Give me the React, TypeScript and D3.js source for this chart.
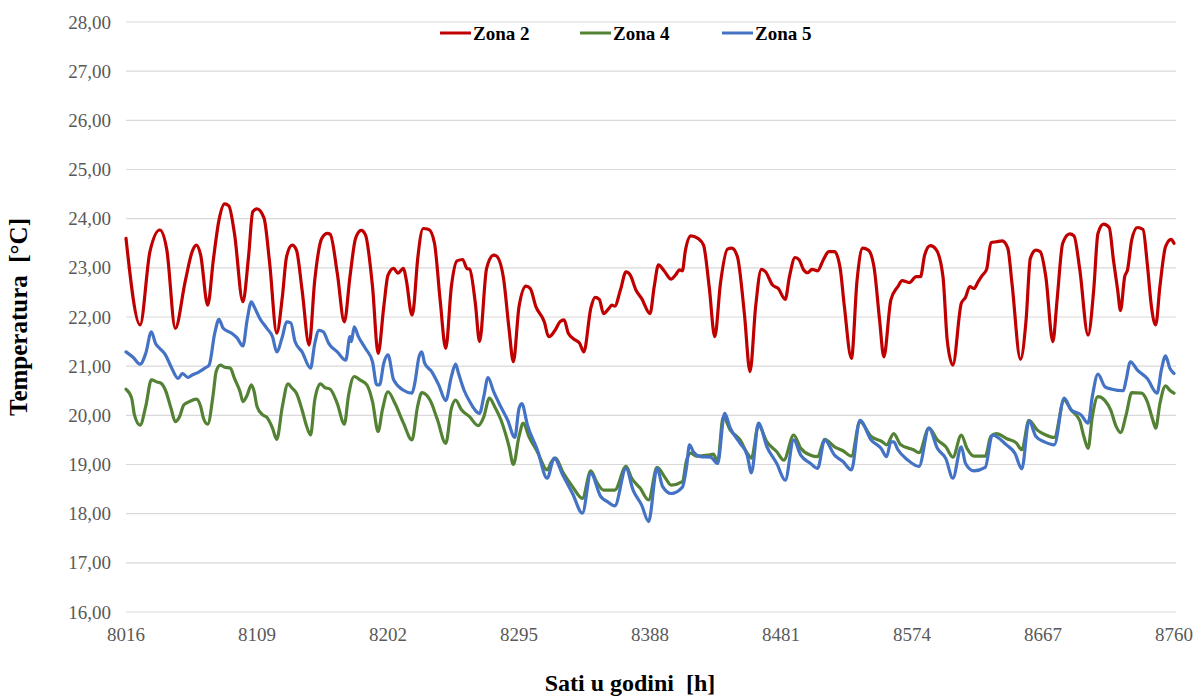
import React from "react";
import * as d3 from "d3";

// Hour-of-year / temperature pairs
const zona2: [number, number][] = [
  [8016, 23.6], [8026, 21.84], [8033, 23.33], [8040, 23.77], [8045, 23.36], [8051, 21.77],
  [8058, 22.72], [8063, 23.33], [8066, 23.46], [8069, 23.26], [8074, 22.24], [8078, 23.16],
  [8082, 23.97], [8086, 24.3], [8089, 24.26], [8093, 23.7], [8099, 22.31], [8103, 23.23],
  [8106, 24.14], [8109, 24.2], [8114, 24.01], [8118, 23.09], [8123, 21.67], [8127, 22.41],
  [8130, 23.23], [8134, 23.46], [8137, 23.36], [8141, 22.55], [8146, 21.43], [8150, 22.75],
  [8155, 23.6], [8159, 23.7], [8161, 23.68], [8166, 22.89], [8171, 21.9], [8175, 22.82],
  [8179, 23.6], [8183, 23.76], [8186, 23.67], [8191, 22.62], [8195, 21.26], [8199, 22.21],
  [8202, 22.85], [8206, 22.99], [8209, 22.89], [8213, 22.99], [8215, 22.75], [8219, 22.04],
  [8220, 22.14], [8223, 23.16], [8227, 23.8], [8231, 23.78], [8235, 23.5], [8239, 22.35],
  [8243, 21.36], [8247, 22.62], [8251, 23.14], [8255, 23.17], [8258, 22.99], [8260, 22.97],
  [8264, 22.28], [8267, 21.5], [8272, 22.99], [8277, 23.26], [8279, 23.24], [8284, 22.79],
  [8288, 21.74], [8291, 21.09], [8295, 22.21], [8300, 22.63], [8303, 22.58], [8307, 22.21],
  [8313, 21.9], [8316, 21.6], [8318, 21.63], [8321, 21.75], [8324, 21.9], [8327, 21.94],
  [8330, 21.67], [8335, 21.53], [8338, 21.47], [8341, 21.29], [8346, 22.18], [8349, 22.4],
  [8352, 22.36], [8355, 22.07], [8359, 22.18], [8361, 22.24], [8363, 22.22], [8367, 22.55],
  [8371, 22.92], [8374, 22.85], [8378, 22.55], [8382, 22.38], [8388, 22.07], [8391, 22.62],
  [8394, 23.06], [8398, 22.94], [8403, 22.77], [8406, 22.85], [8409, 22.96], [8411, 22.94],
  [8413, 23.33], [8417, 23.65], [8422, 23.6], [8426, 23.46], [8430, 22.62], [8434, 21.6],
  [8438, 22.68], [8443, 23.38], [8446, 23.4], [8450, 23.23], [8455, 22.07], [8459, 20.89],
  [8463, 22.21], [8467, 22.97], [8470, 22.92], [8475, 22.65], [8479, 22.58], [8484, 22.36],
  [8487, 22.82], [8491, 23.21], [8494, 23.16], [8497, 22.96], [8500, 22.9], [8503, 22.97],
  [8507, 22.94], [8511, 23.16], [8515, 23.33], [8519, 23.33], [8523, 22.99], [8526, 22.21],
  [8531, 21.16], [8535, 22.75], [8539, 23.4], [8543, 23.36], [8547, 23.02], [8551, 21.94],
  [8554, 21.19], [8559, 22.35], [8564, 22.62], [8567, 22.74], [8572, 22.7], [8577, 22.82],
  [8580, 22.82], [8583, 23.26], [8587, 23.45], [8591, 23.38], [8596, 22.82], [8599, 21.53],
  [8603, 21.02], [8609, 22.28], [8612, 22.4], [8615, 22.62], [8618, 22.58], [8621, 22.72],
  [8624, 22.85], [8627, 22.97], [8630, 23.51], [8634, 23.53], [8638, 23.55], [8642, 23.4],
  [8645, 22.68], [8651, 21.14], [8655, 21.94], [8658, 23.19], [8662, 23.36], [8665, 23.33],
  [8669, 22.82], [8674, 21.5], [8677, 22.35], [8681, 23.5], [8686, 23.69], [8689, 23.65],
  [8693, 22.99], [8699, 21.63], [8703, 22.55], [8706, 23.7], [8710, 23.89], [8714, 23.82],
  [8717, 23.16], [8720, 22.55], [8722, 22.13], [8725, 22.82], [8727, 22.96], [8730, 23.57],
  [8734, 23.82], [8738, 23.78], [8741, 23.09], [8744, 22.21], [8747, 21.84], [8750, 22.62],
  [8754, 23.43], [8758, 23.58], [8760, 23.5],
];

const zona4: [number, number][] = [
  [8016, 20.53], [8020, 20.35], [8022, 20.01], [8026, 19.8], [8030, 20.18], [8034, 20.72],
  [8038, 20.68], [8041, 20.65], [8044, 20.51], [8048, 20.14], [8051, 19.87], [8054, 19.97],
  [8057, 20.21], [8061, 20.28], [8066, 20.33], [8069, 20.18], [8071, 19.94], [8074, 19.82],
  [8078, 20.45], [8080, 20.89], [8083, 21.02], [8086, 20.98], [8090, 20.96], [8093, 20.75],
  [8097, 20.48], [8099, 20.28], [8102, 20.41], [8105, 20.62], [8107, 20.48], [8109, 20.18],
  [8113, 20.01], [8116, 19.96], [8120, 19.74], [8123, 19.51], [8127, 20.18], [8131, 20.64],
  [8134, 20.55], [8137, 20.45], [8141, 20.11], [8144, 19.8], [8147, 19.6], [8150, 20.31],
  [8154, 20.64], [8157, 20.57], [8161, 20.53], [8166, 20.24], [8171, 19.82], [8174, 20.41],
  [8178, 20.79], [8182, 20.72], [8187, 20.62], [8191, 20.28], [8195, 19.67], [8198, 20.11],
  [8202, 20.48], [8207, 20.24], [8213, 19.84], [8219, 19.5], [8223, 20.18], [8226, 20.46],
  [8232, 20.3], [8237, 19.92], [8243, 19.43], [8247, 20.14], [8250, 20.31], [8254, 20.12],
  [8260, 19.97], [8266, 19.79], [8270, 19.97], [8274, 20.35], [8278, 20.16], [8282, 19.92],
  [8286, 19.57], [8288, 19.36], [8291, 19.0], [8295, 19.57], [8298, 19.84], [8302, 19.57],
  [8308, 19.26], [8315, 18.89], [8318, 19.05], [8321, 19.13], [8326, 18.85], [8333, 18.55],
  [8340, 18.31], [8346, 18.87], [8350, 18.65], [8355, 18.48], [8363, 18.48], [8371, 18.96],
  [8375, 18.72], [8381, 18.52], [8387, 18.28], [8393, 18.94], [8399, 18.72], [8403, 18.58],
  [8411, 18.65], [8414, 19.09], [8417, 19.23], [8421, 19.17], [8429, 19.19], [8433, 19.21],
  [8436, 19.06], [8440, 19.97], [8445, 19.7], [8452, 19.5], [8457, 19.23], [8460, 19.13],
  [8465, 19.8], [8471, 19.46], [8478, 19.26], [8483, 19.09], [8490, 19.6], [8495, 19.33],
  [8502, 19.19], [8507, 19.16], [8512, 19.51], [8519, 19.36], [8525, 19.28], [8531, 19.17],
  [8537, 19.87], [8545, 19.57], [8553, 19.46], [8556, 19.4], [8561, 19.63], [8566, 19.4],
  [8575, 19.3], [8579, 19.24], [8586, 19.74], [8592, 19.5], [8598, 19.36], [8603, 19.15],
  [8609, 19.6], [8613, 19.33], [8618, 19.17], [8626, 19.17], [8630, 19.57], [8634, 19.63],
  [8641, 19.53], [8648, 19.44], [8652, 19.3], [8657, 19.9], [8663, 19.7], [8669, 19.6],
  [8675, 19.55], [8682, 20.31], [8687, 20.11], [8693, 19.9], [8696, 19.57], [8699, 19.33],
  [8702, 19.97], [8706, 20.38], [8711, 20.3], [8715, 20.11], [8719, 19.77], [8722, 19.65],
  [8726, 20.01], [8730, 20.46], [8737, 20.45], [8741, 20.28], [8745, 19.9], [8747, 19.74],
  [8750, 20.24], [8754, 20.6], [8757, 20.51], [8760, 20.45],
];

const zona5: [number, number][] = [
  [8016, 21.29], [8021, 21.18], [8026, 21.04], [8030, 21.26], [8034, 21.7], [8037, 21.46],
  [8040, 21.36], [8044, 21.23], [8048, 20.99], [8053, 20.75], [8056, 20.85], [8060, 20.77],
  [8063, 20.82], [8067, 20.87], [8072, 20.96], [8075, 21.02], [8079, 21.67], [8082, 21.95],
  [8085, 21.77], [8091, 21.67], [8095, 21.57], [8099, 21.41], [8102, 21.94], [8105, 22.31],
  [8107, 22.21], [8111, 21.97], [8116, 21.77], [8120, 21.6], [8123, 21.29], [8127, 21.6],
  [8130, 21.9], [8133, 21.88], [8136, 21.5], [8141, 21.29], [8147, 20.96], [8150, 21.46],
  [8153, 21.73], [8156, 21.7], [8160, 21.46], [8166, 21.29], [8172, 21.12], [8175, 21.6],
  [8176, 21.5], [8178, 21.8], [8181, 21.6], [8186, 21.36], [8191, 21.09], [8194, 20.62],
  [8196, 20.62], [8199, 21.06], [8202, 21.23], [8206, 20.72], [8213, 20.51], [8219, 20.45],
  [8221, 20.65], [8224, 21.19], [8226, 21.29], [8228, 21.06], [8233, 20.89], [8238, 20.62],
  [8243, 20.3], [8247, 20.79], [8250, 21.04], [8252, 20.86], [8256, 20.51], [8260, 20.28],
  [8267, 20.04], [8270, 20.38], [8273, 20.77], [8277, 20.48], [8282, 20.18], [8287, 19.9],
  [8292, 19.55], [8295, 20.14], [8297, 20.24], [8301, 19.8], [8308, 19.3], [8315, 18.72],
  [8320, 19.13], [8326, 18.79], [8333, 18.41], [8340, 18.01], [8346, 18.82], [8353, 18.35],
  [8358, 18.24], [8363, 18.16], [8371, 18.92], [8376, 18.48], [8382, 18.18], [8387, 17.84],
  [8393, 18.92], [8397, 18.55], [8403, 18.41], [8411, 18.54], [8414, 18.96], [8416, 19.4],
  [8419, 19.25], [8424, 19.16], [8431, 19.15], [8436, 19.02], [8441, 20.04], [8445, 19.74],
  [8452, 19.43], [8457, 19.19], [8460, 18.83], [8465, 19.84], [8471, 19.36], [8478, 19.02],
  [8484, 18.68], [8490, 19.5], [8495, 19.19], [8502, 19.02], [8507, 18.92], [8512, 19.5],
  [8519, 19.19], [8525, 19.06], [8531, 18.89], [8537, 19.9], [8545, 19.5], [8552, 19.33],
  [8556, 19.16], [8559, 19.46], [8561, 19.46], [8564, 19.3], [8571, 19.09], [8579, 18.96],
  [8586, 19.74], [8592, 19.33], [8598, 19.12], [8603, 18.72], [8609, 19.36], [8612, 19.02],
  [8618, 18.87], [8626, 18.94], [8631, 19.6], [8641, 19.4], [8647, 19.23], [8652, 18.91],
  [8657, 19.89], [8662, 19.57], [8668, 19.46], [8675, 19.4], [8682, 20.35], [8687, 20.11],
  [8694, 20.01], [8699, 19.84], [8702, 20.38], [8706, 20.84], [8711, 20.58], [8716, 20.53],
  [8724, 20.5], [8726, 20.72], [8729, 21.09], [8734, 20.92], [8741, 20.75], [8748, 20.45],
  [8751, 20.92], [8754, 21.21], [8757, 20.96], [8760, 20.85],
];

const seriesNames = ["Zona 2", "Zona 4", "Zona 5"];
const seriesColors = ["#C00000", "#548235", "#4472C4"];
const xTicks = [8016, 8109, 8202, 8295, 8388, 8481, 8574, 8667, 8760];
const yTicks = [16, 17, 18, 19, 20, 21, 22, 23, 24, 25, 26, 27, 28];

const W = 1196;
const H = 698;
const M = { left: 126, right: 22, top: 22, bottom: 86 };

export default function App() {
  const x = d3.scaleLinear().domain([8016, 8760]).range([M.left, W - M.right]);
  const y = d3.scaleLinear().domain([16, 28]).range([H - M.bottom, M.top]);
  const line = d3
    .line<[number, number]>()
    .x((d) => x(d[0]))
    .y((d) => y(d[1]))
    .curve(d3.curveMonotoneX);
  const data = [zona2, zona4, zona5];
  const font = "'Liberation Serif', 'Times New Roman', serif";
  const legendX = [440, 580, 722];

  return (
    <svg
      width={W}
      height={H}
      style={{ position: "absolute", left: 0, top: 0, background: "#fff" }}
      fontFamily={font}
    >
      {yTicks.map((t) => (
        <g key={t}>
          <line x1={M.left} x2={W - M.right + 2} y1={y(t)} y2={y(t)} stroke="#D9D9D9" strokeWidth={1.2} />
          <text x={111} y={y(t)} dy="0.35em" textAnchor="end" fontSize={19} fill="#595959">
            {d3.format(".2f")(t).replace(".", ",")}
          </text>
        </g>
      ))}
      {xTicks.map((t) => (
        <text key={t} x={x(t)} y={641} textAnchor="middle" fontSize={19} fill="#595959">
          {t}
        </text>
      ))}
      {data.map((d, i) => (
        <path
          key={seriesNames[i]}
          d={line(d) || ""}
          fill="none"
          stroke={seriesColors[i]}
          strokeWidth={3.2}
          strokeLinejoin="round"
          strokeLinecap="round"
        />
      ))}
      {seriesNames.map((n, i) => (
        <g key={n}>
          <line x1={legendX[i]} x2={legendX[i] + 31} y1={33} y2={33} stroke={seriesColors[i]} strokeWidth={3} />
          <text x={legendX[i] + 33} y={33} dy="0.35em" fontSize={19} fontWeight="bold" fill="#000">
            {n}
          </text>
        </g>
      ))}
      <text
        transform={`translate(27, ${(y(16) + y(28)) / 2}) rotate(-90)`}
        textAnchor="middle"
        fontSize={25}
        fontWeight="bold"
        fill="#000"
        style={{ whiteSpace: "pre" }}
      >
        {"Temperatura  [°C]"}
      </text>
      <text
        x={630}
        y={691}
        textAnchor="middle"
        fontSize={24}
        fontWeight="bold"
        fill="#000"
        style={{ whiteSpace: "pre" }}
      >
        {"Sati u godini  [h]"}
      </text>
    </svg>
  );
}
